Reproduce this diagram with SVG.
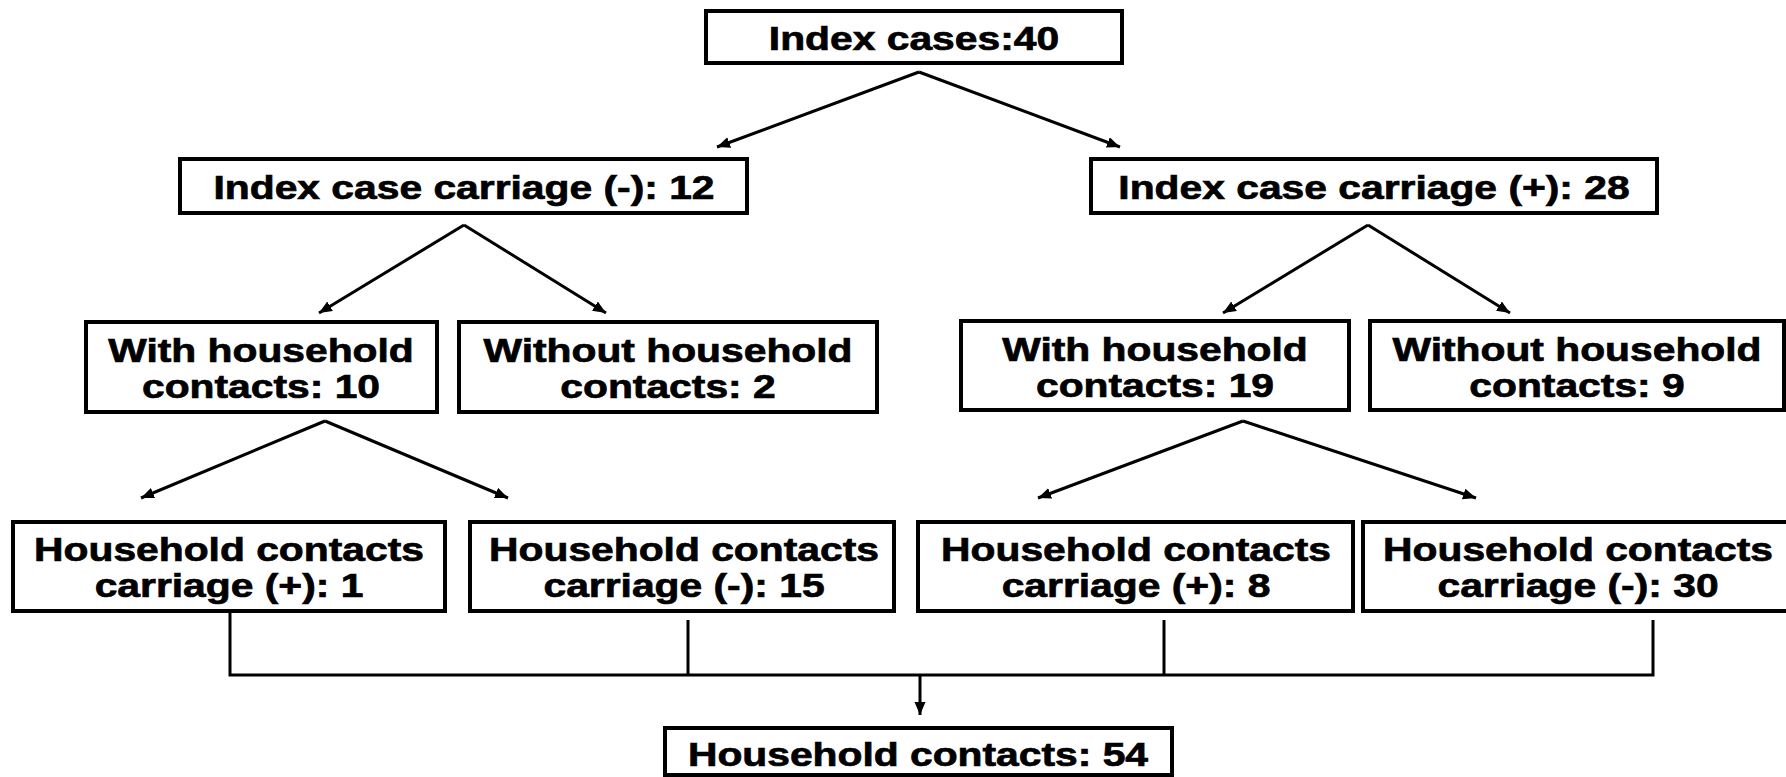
<svg xmlns="http://www.w3.org/2000/svg" width="1786" height="777" viewBox="0 0 1786 777">
<style>
.box{fill:#fff;stroke:#000;stroke-width:4}
.t{font-family:"Liberation Sans",Arial,sans-serif;font-weight:bold;font-size:34px;fill:#000;stroke:#000;stroke-width:0.7;text-anchor:middle}
.c{fill:none;stroke:#000;stroke-width:3}
</style>
<defs>
<marker id="ah" markerUnits="userSpaceOnUse" markerWidth="16" markerHeight="12" refX="13" refY="5.5" orient="auto">
<path d="M0,0 L13,5.5 L0,11 z" fill="#000"/>
</marker>
</defs>
<rect width="1786" height="777" fill="#fff"/>
<g id="connectors">
<path class="c" d="M919,72 L717,147" marker-end="url(#ah)"/>
<path class="c" d="M919,72 L1120,147" marker-end="url(#ah)"/>
<path class="c" d="M464,225 L319,313" marker-end="url(#ah)"/>
<path class="c" d="M464,225 L606,313" marker-end="url(#ah)"/>
<path class="c" d="M1368,225 L1223,313" marker-end="url(#ah)"/>
<path class="c" d="M1368,225 L1510,313" marker-end="url(#ah)"/>
<path class="c" d="M325,421 L141,498" marker-end="url(#ah)"/>
<path class="c" d="M325,421 L508,498" marker-end="url(#ah)"/>
<path class="c" d="M1243,421 L1038,498" marker-end="url(#ah)"/>
<path class="c" d="M1243,421 L1476,498" marker-end="url(#ah)"/>
<path class="c" d="M230,612 V675 H1653 V620"/>
<path class="c" d="M688,620 V675"/>
<path class="c" d="M1164,620 V675"/>
<path class="c" d="M920,675 V715" marker-end="url(#ah)"/>
</g>
<g id="n_index">
<rect class="box" x="706" y="11" width="416" height="52"/>
<text class="t" transform="translate(914,50) scale(1.2,1)">Index cases:40</text>
</g>
<g id="n_neg">
<rect class="box" x="180" y="159" width="567" height="54"/>
<text class="t" transform="translate(464,199) scale(1.2,1)">Index case carriage (-): 12</text>
</g>
<g id="n_pos">
<rect class="box" x="1091" y="159" width="566" height="54"/>
<text class="t" transform="translate(1374,199) scale(1.2,1)">Index case carriage (+): 28</text>
</g>
<g id="n_with10">
<rect class="box" x="86" y="322" width="351" height="90"/>
<text class="t" transform="translate(261,362) scale(1.2,1)"><tspan x="0" y="0">With household</tspan><tspan x="0" y="36">contacts: 10</tspan></text>
</g>
<g id="n_without2">
<rect class="box" x="459" y="322" width="418" height="90"/>
<text class="t" transform="translate(668,362) scale(1.2,1)"><tspan x="0" y="0">Without household</tspan><tspan x="0" y="36">contacts: 2</tspan></text>
</g>
<g id="n_with19">
<rect class="box" x="961" y="321" width="388" height="89"/>
<text class="t" transform="translate(1155,361) scale(1.2,1)"><tspan x="0" y="0">With household</tspan><tspan x="0" y="36">contacts: 19</tspan></text>
</g>
<g id="n_without9">
<rect class="box" x="1370" y="321" width="414" height="89"/>
<text class="t" transform="translate(1577,361) scale(1.2,1)"><tspan x="0" y="0">Without household</tspan><tspan x="0" y="36">contacts: 9</tspan></text>
</g>
<g id="n_hc_pos1">
<rect class="box" x="13" y="522" width="432" height="89"/>
<text class="t" transform="translate(229,561) scale(1.2,1)"><tspan x="0" y="0">Household contacts</tspan><tspan x="0" y="36">carriage (+): 1</tspan></text>
</g>
<g id="n_hc_neg15">
<rect class="box" x="470" y="522" width="424" height="89"/>
<text class="t" transform="translate(684,561) scale(1.2,1)"><tspan x="0" y="0">Household contacts</tspan><tspan x="0" y="36">carriage (-): 15</tspan></text>
</g>
<g id="n_hc_pos8">
<rect class="box" x="918" y="522" width="435" height="89"/>
<text class="t" transform="translate(1136,561) scale(1.2,1)"><tspan x="0" y="0">Household contacts</tspan><tspan x="0" y="36">carriage (+): 8</tspan></text>
</g>
<g id="n_hc_neg30">
<rect class="box" x="1363" y="522" width="430" height="89"/>
<text class="t" transform="translate(1578,561) scale(1.2,1)"><tspan x="0" y="0">Household contacts</tspan><tspan x="0" y="36">carriage (-): 30</tspan></text>
</g>
<g id="n_total">
<rect class="box" x="665" y="728" width="507" height="47"/>
<text class="t" transform="translate(918,766) scale(1.2,1)">Household contacts: 54</text>
</g>
</svg>
